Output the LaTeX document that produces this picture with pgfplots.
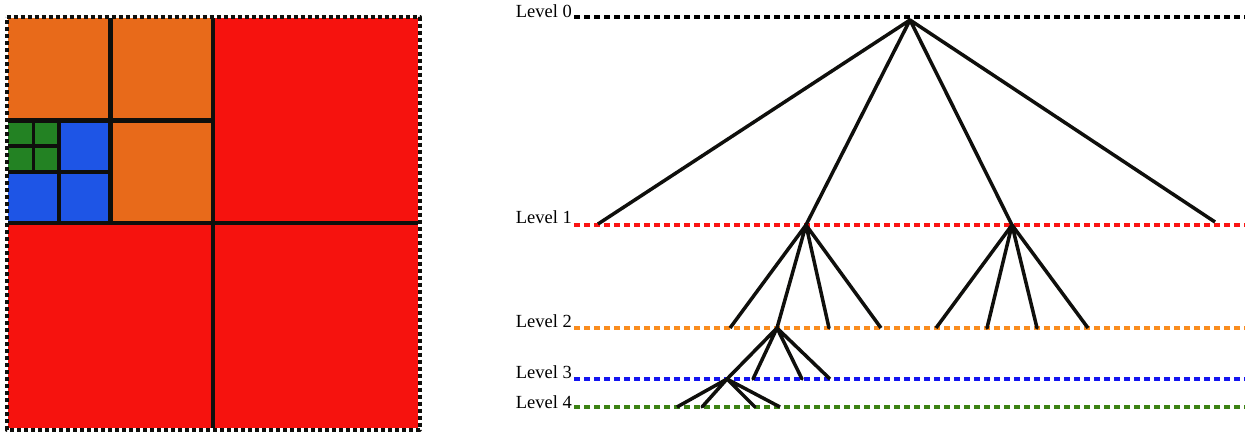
\documentclass[border=0pt]{standalone}
\usepackage{fontspec}
\setmainfont{Liberation Serif}
\usepackage{pgfplots}
\pgfplotsset{compat=1.18}
\definecolor{qred}{RGB}{246,18,14}
\definecolor{qorange}{RGB}{232,106,26}
\definecolor{qblue}{RGB}{30,85,230}
\definecolor{qgreen}{RGB}{35,130,35}
\definecolor{ink}{RGB}{15,15,12}
\definecolor{lred}{RGB}{250,20,20}
\definecolor{lorange}{RGB}{250,140,30}
\definecolor{lblue}{RGB}{20,20,240}
\definecolor{lgreen}{RGB}{60,130,20}
\begin{document}
\begin{tikzpicture}
\begin{axis}[
  width=1248pt, height=432pt, scale only axis,
  xmin=0, xmax=1248, ymin=0, ymax=432, y dir=reverse,
  hide axis, clip=false,
  every axis plot/.append style={line join=round},
  lvl/.style={line width=3.5pt, dash pattern=on 6pt off 4pt},
  edge/.style={ink, line width=3.5pt, line join=round},
]
% invisible extent
\addplot[draw=none] coordinates {(0,0) (1248,432)};
% ---------- quadtree squares ----------
\addplot[fill=qred, draw=none] coordinates {(213,18) (418,18) (418,223) (213,223)} -- cycle;
\addplot[fill=qred, draw=none] coordinates {(8,223) (213,223) (213,428) (8,428)} -- cycle;
\addplot[fill=qred, draw=none] coordinates {(213,223) (418,223) (418,428) (213,428)} -- cycle;
\addplot[fill=qorange, draw=none] coordinates {(8,18) (110.5,18) (110.5,120.5) (8,120.5)} -- cycle;
\addplot[fill=qorange, draw=none] coordinates {(110.5,18) (213,18) (213,120.5) (110.5,120.5)} -- cycle;
\addplot[fill=qorange, draw=none] coordinates {(110.5,120.5) (213,120.5) (213,223) (110.5,223)} -- cycle;
\addplot[fill=qblue, draw=none] coordinates {(59.25,120.5) (110.5,120.5) (110.5,171.75) (59.25,171.75)} -- cycle;
\addplot[fill=qblue, draw=none] coordinates {(8,171.75) (59.25,171.75) (59.25,223) (8,223)} -- cycle;
\addplot[fill=qblue, draw=none] coordinates {(59.25,171.75) (110.5,171.75) (110.5,223) (59.25,223)} -- cycle;
\addplot[fill=qgreen, draw=none] coordinates {(8,120.5) (59.25,120.5) (59.25,171.75) (8,171.75)} -- cycle;
% division lines
\addplot[ink, line width=4.5pt] coordinates {(213,18) (213,428)};
\addplot[ink, line width=4.5pt] coordinates {(8,223) (418,223)};
\addplot[ink, line width=4.5pt] coordinates {(110.5,18) (110.5,223)};
\addplot[ink, line width=4.5pt] coordinates {(8,120.5) (213,120.5)};
\addplot[ink, line width=4pt] coordinates {(59.25,120.5) (59.25,223)};
\addplot[ink, line width=4pt] coordinates {(8,171.75) (110.5,171.75)};
\addplot[ink, line width=3.5pt] coordinates {(33.6,120.5) (33.6,171.75)};
\addplot[ink, line width=3.5pt] coordinates {(8,146) (59.25,146)};
% outer dotted border
\addplot[ink, line width=4pt, dash pattern=on 4pt off 3pt]
  coordinates {(6.5,16.5) (419.5,16.5) (419.5,429.5) (6.5,429.5)} -- cycle;
% ---------- level lines ----------
\addplot[black, lvl] coordinates {(574,17) (1245,17)};
\addplot[lred, lvl] coordinates {(574,225) (1245,225)};
\addplot[lorange, lvl] coordinates {(574,328) (1245,328)};
\addplot[lblue, lvl] coordinates {(574,379) (1245,379)};
\addplot[lgreen, lvl] coordinates {(574,407) (1245,407)};
% ---------- tree edges ----------
\addplot[edge] coordinates {(598,224) (910,20) (806,225) (910,20) (1012,225) (910,20) (1215,222)};
\addplot[edge] coordinates {(730,328) (806,225) (777,328) (806,225) (829,328) (806,225) (881,328)};
\addplot[edge] coordinates {(936,328) (1012,225) (987,328) (1012,225) (1037,328) (1012,225) (1088,328)};
\addplot[edge] coordinates {(727,379) (777,328) (753,379) (777,328) (802,379) (777,328) (830,379)};
\addplot[edge] coordinates {(677,407) (727,379) (702,407) (727,379) (755,407) (727,379) (780,407)};
% ---------- labels ----------
\begin{scope}[every node/.style={anchor=base east, inner sep=0pt, font=\fontsize{18.5}{22}\selectfont}]
\node at (axis cs:572,17) {Level 0};
\node at (axis cs:572,223) {Level 1};
\node at (axis cs:572,327) {Level 2};
\node at (axis cs:572,378) {Level 3};
\node at (axis cs:572,408) {Level 4};
\end{scope}
\end{axis}
\end{tikzpicture}
\end{document}
